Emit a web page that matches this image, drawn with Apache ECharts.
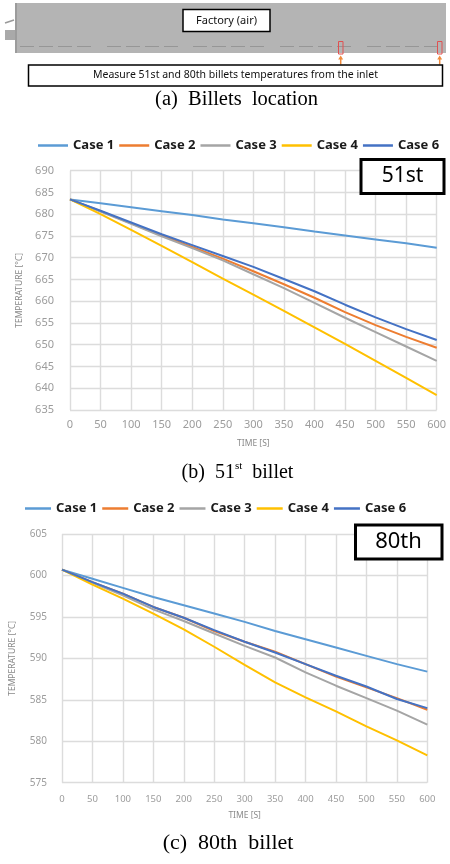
<!DOCTYPE html>
<html><head><meta charset="utf-8">
<script src="https://cdn.jsdelivr.net/npm/echarts@6/dist/echarts.min.js"></script>
<style>html,body{margin:0;padding:0;background:#fff}#main{width:450px;height:864px}</style>
</head><body><div id="main"></div>
<script>
// ---- data ----
const times = [0, 50, 100, 150, 200, 250, 300, 350, 400, 450, 500, 550, 600];
const caseNames = ['Case 1', 'Case 2', 'Case 3', 'Case 4', 'Case 6'];
const caseColors = ['#5B9BD5', '#ED7D31', '#A5A5A5', '#FFC000', '#4472C4'];

// 51st billet temperatures [°C]
const b51_case1 = [683.4, 682.5, 681.6, 680.7, 679.8, 678.8, 677.9, 677.0, 676.0, 675.1, 674.2, 673.3, 672.3];
const b51_case2 = [683.4, 680.7, 677.9, 675.1, 672.5, 669.8, 666.9, 663.9, 660.8, 657.5, 654.5, 651.8, 649.3];
const b51_case3 = [683.4, 680.6, 677.8, 674.9, 672.2, 669.4, 666.2, 663.0, 659.6, 656.2, 652.9, 649.6, 646.3];
const b51_case4 = [683.4, 680.0, 676.4, 672.7, 669.0, 665.2, 661.5, 657.8, 654.0, 650.2, 646.3, 642.4, 638.4];
const b51_case6 = [683.4, 680.8, 678.1, 675.4, 672.9, 670.4, 667.9, 665.1, 662.3, 659.2, 656.3, 653.6, 651.1];

// 80th billet temperatures [°C]
const b80_case1 = [600.7, 599.6, 598.5, 597.4, 596.4, 595.4, 594.4, 593.3, 592.3, 591.3, 590.3, 589.3, 588.4];
const b80_case2 = [600.7, 599.2, 597.8, 596.2, 594.9, 593.3, 592.0, 590.8, 589.3, 587.8, 586.5, 585.2, 583.8];
const b80_case3 = [600.7, 599.1, 597.6, 595.9, 594.5, 593.0, 591.5, 590.1, 588.3, 586.7, 585.2, 583.7, 582.0];
const b80_case4 = [600.7, 598.9, 597.2, 595.4, 593.5, 591.4, 589.2, 587.1, 585.3, 583.6, 581.8, 580.1, 578.3];
const b80_case6 = [600.7, 599.2, 597.8, 596.2, 594.9, 593.4, 592.0, 590.7, 589.3, 587.9, 586.6, 585.1, 584.0];

const b51 = [b51_case1, b51_case2, b51_case3, b51_case4, b51_case6];
const b80 = [b80_case1, b80_case2, b80_case3, b80_case4, b80_case6];

// ---- build ----
const pairs = (vals) => times.map((t, i) => [t, vals[i]]);
const mkSeries = (sets, idx) => sets.map((vals, k) => ({
  name: caseNames[k], type: 'line', xAxisIndex: idx, yAxisIndex: idx,
  data: pairs(vals), symbol: 'none', smooth: false,
  lineStyle: { width: 2, color: caseColors[k] }, itemStyle: { color: caseColors[k] },
  z: 3 + k
}));

const gridLine = { show: true, lineStyle: { color: '#dcdcdc', width: 1.4 } };
const mkX = (idx, labFs, margin, gap) => ({
  type: 'value', gridIndex: idx, min: 0, max: 600, interval: 50,
  axisLine: { show: false }, axisTick: { show: false }, splitLine: gridLine,
  axisLabel: { color: '#9c9c9c', fontSize: labFs, fontFamily: 'Noto Sans', margin: margin },
  name: 'TIME [S]', nameLocation: 'middle', nameGap: gap,
  nameTextStyle: { color: '#8a8a8a', fontSize: 8.5, fontFamily: 'Noto Sans' }
});
const mkY = (idx, min, max, labFs, margin, gap) => ({
  type: 'value', gridIndex: idx, min: min, max: max, interval: 5,
  axisLine: { show: false }, axisTick: { show: false }, splitLine: gridLine,
  axisLabel: { color: '#9c9c9c', fontSize: labFs, fontFamily: 'Noto Sans', margin: margin },
  name: 'TEMPERATURE [°C]', nameLocation: 'middle', nameGap: gap, nameRotate: 90,
  nameTextStyle: { color: '#8a8a8a', fontSize: 8.5, fontFamily: 'Noto Sans' }
});

const legendText = { fontFamily: 'Noto Sans', fontSize: 13, fontWeight: 'bold', color: '#1a1a1a' };

// diagram (panel a) decoration
const graphics = [];
graphics.push({ type: 'rect', shape: { x: 15, y: 3, width: 431, height: 50 }, style: { fill: '#b4b4b4' } });
graphics.push({ type: 'rect', shape: { x: 15, y: 3, width: 2, height: 50 }, style: { fill: '#9c9c9c' } });
graphics.push({ type: 'rect', shape: { x: 5, y: 30, width: 10, height: 10 }, style: { fill: '#a9a9a9' } });
graphics.push({ type: 'line', shape: { x1: 5, y1: 23, x2: 14, y2: 20 }, style: { stroke: '#9a9a9a', lineWidth: 1.5 } });
[20, 107, 193, 280, 367].forEach(x0 => {
  graphics.push({ type: 'line', shape: { x1: x0, y1: 46.5, x2: x0 + 73, y2: 46.5 },
    style: { stroke: '#969696', lineWidth: 1.2, lineDash: [14, 5] } });
});
[[338.5, 340.7], [437.5, 439.7]].forEach(([rx, ax]) => {
  graphics.push({ type: 'rect', shape: { x: rx, y: 41.5, width: 4.5, height: 12.5 },
    style: { fill: 'none', stroke: '#e05050', lineWidth: 1 } });
  graphics.push({ type: 'line', shape: { x1: ax, y1: 64.5, x2: ax, y2: 58 },
    style: { stroke: '#f08a3c', lineWidth: 1.5 } });
  graphics.push({ type: 'polygon', shape: { points: [[ax - 2.5, 59.5], [ax + 2.5, 59.5], [ax, 55.5]] },
    style: { fill: '#f08a3c' } });
});
graphics.push({ type: 'rect', shape: { x: 183, y: 9.5, width: 87, height: 22 },
  style: { fill: '#fff', stroke: '#000', lineWidth: 1.5 } });
graphics.push({ type: 'text', x: 226.5, y: 20.5,
  style: { text: 'Factory (air)', fontFamily: 'Noto Sans', fontSize: 11, fill: '#111', align: 'center', verticalAlign: 'middle' } });
graphics.push({ type: 'rect', shape: { x: 28.5, y: 65, width: 414, height: 21 },
  style: { fill: '#fff', stroke: '#000', lineWidth: 1.5 } });
graphics.push({ type: 'text', x: 235.5, y: 75.5,
  style: { text: 'Measure 51st and 80th billets temperatures from the inlet', fontFamily: 'Noto Sans', fontSize: 10.5, fill: '#111', align: 'center', verticalAlign: 'middle' } });

// captions
const serif = 'Liberation Serif';
graphics.push({ type: 'text', x: 236.5, y: 100,
  style: { text: '(a)  Billets  location', fontFamily: serif, fontSize: 20.5, fill: '#000', align: 'center', verticalAlign: 'middle' } });
graphics.push({ type: 'text', x: 237.5, y: 473,
  style: { text: '{n|(b)  51}{s|st}{n|  billet}', align: 'center', verticalAlign: 'middle',
    rich: { n: { fontFamily: serif, fontSize: 20, lineHeight: 24, fill: '#000', color: '#000' },
            s: { fontFamily: serif, fontSize: 11, lineHeight: 14, verticalAlign: 'top', fill: '#000', color: '#000' } } } });
graphics.push({ type: 'text', x: 228, y: 843,
  style: { text: '(c)  80th  billet', fontFamily: serif, fontSize: 22, fill: '#000', align: 'center', verticalAlign: 'middle' } });

// label boxes
graphics.push({ type: 'rect', z: 20, shape: { x: 361, y: 159.5, width: 83, height: 34 },
  style: { fill: '#fff', stroke: '#000', lineWidth: 3 } });
graphics.push({ type: 'text', z: 21, x: 402.5, y: 176.5,
  style: { text: '51st', fontFamily: 'Noto Sans', fontSize: 21, fill: '#000', align: 'center', verticalAlign: 'middle' } });
graphics.push({ type: 'rect', z: 20, shape: { x: 355.5, y: 525, width: 86.5, height: 34 },
  style: { fill: '#fff', stroke: '#000', lineWidth: 3 } });
graphics.push({ type: 'text', z: 21, x: 398.5, y: 542,
  style: { text: '80th', fontFamily: 'Noto Sans', fontSize: 22, fill: '#000', align: 'center', verticalAlign: 'middle' } });

const option = {
  animation: false,
  backgroundColor: '#fff',
  legend: [
    { left: 33, top: 134, itemWidth: 30, itemHeight: 2.5, itemGap: 5, icon: 'rect', textStyle: legendText, data: caseNames },
    { left: 20, top: 497, itemWidth: 26, itemHeight: 2.5, itemGap: 5, icon: 'rect', textStyle: legendText, data: caseNames }
  ],
  grid: [
    { left: 70, top: 170.7, width: 366.7, height: 239.3 },
    { left: 59.3, top: 534, width: 368, height: 248.7 }
  ],
  xAxis: [mkX(0, 11, 9.5, 29), mkX(1, 9.5, 12, 28)],
  yAxis: [mkY(0, 635, 690, 11, 16, 42), mkY(1, 575, 605, 10, 15, 45)],
  series: [...mkSeries(b51, 0), ...mkSeries(b80, 1)],
  graphic: graphics
};

const chart = echarts.init(document.getElementById('main'));
chart.setOption(option);
</script>
</body></html>
